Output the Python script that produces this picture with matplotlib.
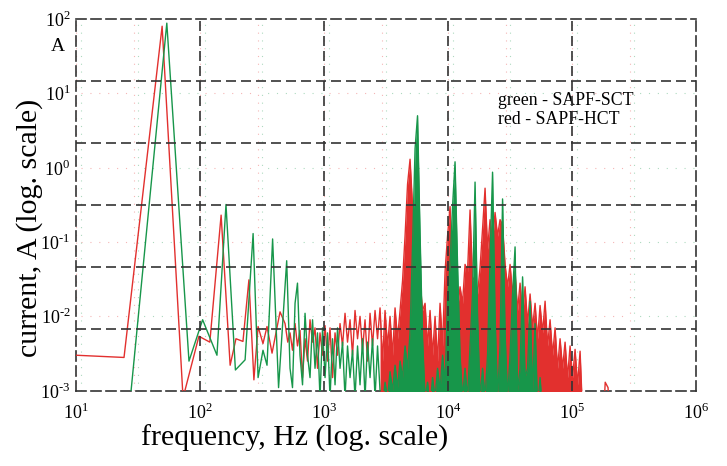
import numpy as np
import matplotlib.pyplot as plt

# ---- data (Hz, A) ----
red_low_f = [10, 24.4, 49.5, 73, 98, 120, 148, 175, 195, 222, 248, 272, 294, 322, 347, 381, 442, 485, 510]
red_low_a = [3.0e-3, 2.8e-3, 80, 8e-4, 5.4e-3, 4.5e-3, 0.23, 2.2e-3, 5.0e-3, 4.6e-3, 0.031, 1.4e-3,
             7.3e-3, 4.3e-3, 7.3e-3, 3.2e-3, 0.0115, 8e-3, 4.5e-3]

green_low_f = [27, 54, 81.5, 105, 137, 162, 193, 231, 268, 294, 322, 347, 385, 430, 500]
green_low_a = [6e-4, 88, 2.5e-3, 9e-3, 3e-3, 0.32, 1.9e-3, 2.6e-3, 0.13, 1.5e-3, 3.5e-3, 2.2e-3,
               0.11, 1.1e-3, 0.056]

# frequencies of the dense part of the spectrum
dense_f = [532, 557, 584, 611, 640, 671, 703, 736, 771, 808,
           846, 886, 928, 973, 1019, 1067, 1118, 1171, 1227, 1285,
           1346, 1410, 1477, 1547, 1621, 1698, 1778, 1863, 1951, 2044,
           2141, 2243, 2350, 2461, 2578, 2701, 2829, 2964, 3104, 3252,
           3406, 3568, 3738, 3915, 4102, 4296, 4501, 4715, 4939, 5173,
           5420, 5675, 5946, 6228, 6524, 6835, 7159, 7499, 7856, 8229,
           8620, 9030, 9458, 9906, 10378, 10872, 11386, 11927, 12495, 13089,
           13711, 14361, 15044, 15760, 16508, 17294, 18113, 18975, 19878, 20820,
           21811, 22845, 23933, 25071, 26261, 27510, 28820, 30186, 31623, 33121,
           34698, 36350, 38075, 39886, 41778, 43768, 45852, 48028, 50314, 52699,
           55208, 57836, 60579, 63462, 66468, 69632, 72947, 76384, 80020, 83814,
           87803, 91983, 96341, 100925, 105709, 110740, 116010, 121501]

red_dense_a = [6e-3, 3.5e-3, 8e-3, 4e-3, 6.5e-3, 1.5e-3, 5e-3, 2.5e-3, 9e-3, 4.5e-3,
               7e-3, 2e-3, 6e-3, 3e-3, 7.5e-3, 2.5e-3, 7e-3, 1.5e-3, 6e-3, 3e-3,
               8e-3, 4e-3, 1.1e-2, 4.5e-3, 9e-3, 3e-3, 1.2e-2, 5e-3, 1.0e-2, 3.5e-3,
               9e-3, 2.5e-3, 1.1e-2, 4e-3, 1.2e-2, 5e-3, 1.3e-2, 2.5e-3, 1.2e-2, 4e-3,
               1.0e-2, 3e-3, 1.3e-2, 5e-3, 0.012, 0.03, 0.12, 0.6, 1.3, 0.3,
               0.1, 0.05, 0.03, 0.012, 0.015, 4e-3, 0.012, 3e-3, 0.01, 2.5e-3,
               0.015, 4e-3, 0.04, 0.12, 0.3, 0.04, 0.02, 0.012, 0.025, 0.015,
               0.05, 0.04, 0.27, 0.03, 0.035, 0.02, 0.045, 0.15, 0.53, 0.08,
               0.2, 0.1, 0.25, 0.12, 0.2, 0.17, 0.05, 0.025, 0.05, 0.02,
               0.04, 0.012, 0.028, 0.01, 0.025, 8e-3, 0.02, 7e-3, 0.015, 5e-3,
               0.014, 6e-3, 0.016, 4e-3, 9e-3, 3e-3, 7e-3, 2e-3, 5e-3, 2e-3,
               4.5e-3, 1.5e-3, 4e-3, 1.5e-3, 3.6e-3, 1.2e-3, 3.4e-3, 5e-4]

green_dense_a = [2e-3, 1.1e-3, 0.015, 0.028, 3e-3, 1.2e-3, 0.011, 3e-3, 1.5e-3, 9e-3,
                 2e-3, 6e-3, 8e-4, 7e-3, 1.5e-3, 6e-3, 8e-4, 5e-3, 1.2e-3, 7e-3,
                 2e-3, 4.5e-3, 8e-4, 4e-3, 1.5e-3, 3.5e-3, 8e-4, 4e-3, 1.2e-3, 5e-3,
                 8e-4, 4.5e-3, 1.5e-3, 5e-3, 8e-4, 4e-3, 1e-3, 6e-4, 1.3e-3, 8e-4,
                 1.8e-3, 1e-3, 2.2e-3, 1.1e-3, 2.5e-3, 1.5e-3, 4e-3, 2e-3, 6e-3, 0.09,
                 1.8, 5.0, 0.13, 5e-3, 8e-4, 1.3e-3, 6e-4, 1.5e-3, 8e-4, 2e-3,
                 1e-3, 3e-3, 1.2e-3, 0.017, 0.05, 0.3, 1.2, 0.05, 3e-3, 8e-4,
                 2e-3, 8e-4, 4e-3, 0.02, 0.64, 0.01, 8e-4, 2e-3, 8e-4, 3e-3,
                 0.06, 0.87, 0.01, 8e-4, 4e-3, 0.38, 6e-3, 8e-4, 3e-3, 0.02,
                 0.086, 1e-3, 2e-3, 0.034, 1.5e-3, 2e-3, 0.016, 1e-3, 8e-3, 6e-4,
                 1.5e-3, 5e-4]

red_tail_f = [140000, 180000, 185000, 195000, 200000]
red_tail_a = [5e-4, 5e-4, 1.3e-3, 1.1e-3, 5e-4]

red_f = red_low_f + dense_f + red_tail_f
red_a = red_low_a + red_dense_a + red_tail_a
green_f = green_low_f + dense_f[:len(green_dense_a)]
green_a = green_low_a + green_dense_a

plt.rcParams['font.family'] = ['Liberation Serif', 'DejaVu Serif']
plt.rcParams['mathtext.fontset'] = 'custom'
plt.rcParams['mathtext.rm'] = 'Liberation Serif'

fig = plt.figure(figsize=(7.27, 4.66), dpi=100)
ax = fig.add_axes([0.1045, 0.1616, 0.853, 0.7976])
ax.set_xscale('log')
ax.set_yscale('log')
ax.set_xlim(10, 1e6)
ax.set_ylim(1e-3, 1e2)

red_c = '#e2302e'
green_c = '#17964a'

# faint dotted ghost lines (left over in the original export)
for n in range(1, 6):
    for xr, xg in [(10 ** (n + 0.5) * 0.93, 10 ** (n + 0.5)), (10 ** n, 10 ** n * 1.1)]:
        ax.axvline(xr, color=red_c, lw=0.8, ls=(0, (1, 6)), alpha=0.35, zorder=1)
        ax.axvline(xg, color=green_c, lw=0.8, ls=(0, (1, 6)), alpha=0.35, zorder=1)
    for d in [1e1, 1e0, 1e-1, 1e-2]:
        ax.plot([10 ** n * 1.1, 10 ** (n + 0.5) * 0.93], [d, d], color=red_c, lw=0.8,
                ls=(0, (1, 7)), alpha=0.35, zorder=1)
        ax.plot([10 ** (n + 0.5), 10 ** (n + 1)], [d, d], color=green_c, lw=0.8,
                ls=(3, (1, 7)), alpha=0.35, zorder=1)

# spectra; the dense high-frequency part is filled down to the floor
k0 = 36
ax.plot(red_f, red_a, color=red_c, lw=1.0, zorder=3)
ax.fill_between(dense_f[k0:], 1e-4, red_dense_a[k0:], color=red_c, lw=0, zorder=3)
ax.plot(green_f, green_a, color=green_c, lw=1.0, zorder=4)
ax.fill_between(dense_f[k0:len(green_dense_a)], 1e-4, green_dense_a[k0:], color=green_c, lw=0, zorder=4)

# dashed grid: vertical at decades, horizontal at sixths of the range
for xv in [1e2, 1e3, 1e4, 1e5]:
    ax.axvline(xv, color='#333333', lw=1.2, dashes=(6, 3), zorder=5)
for k in range(1, 6):
    ax.axhline(10 ** (2 - k * 5 / 6), color='#333333', lw=1.2, dashes=(6, 3), zorder=5)
for s in ax.spines.values():
    s.set_linestyle((0, (6, 3)))
    s.set_linewidth(1.2)
    s.set_edgecolor('#333333')

ax.set_xticks([1e1, 1e2, 1e3, 1e4, 1e5, 1e6])
ax.set_xticklabels(['10$^{1}$', '10$^{2}$', '10$^{3}$', '10$^{4}$', '10$^{5}$', '10$^{6}$'])
ax.set_yticks([1e-3, 1e-2, 1e-1, 1e0, 1e1, 1e2])
ax.set_yticklabels(['10$^{\\text{-}3}$', '10$^{\\text{-}2}$', '10$^{\\text{-}1}$',
                    '10$^{0}$', '10$^{1}$', '10$^{2}$'])
ax.minorticks_off()
ax.tick_params(length=0, labelsize=13, pad=4)
ax.tick_params(axis='x', pad=9)

fig.text(0.079, 0.90, 'A', fontsize=14, ha='center', va='center')
fig.text(0.041, 0.511, 'current, A (log. scale)', fontsize=21.5, rotation=90, ha='center', va='center')
fig.text(0.405, 0.06, 'frequency, Hz (log. scale)', fontsize=21.5, ha='center', va='center')
ax.text(0.68, 0.78, 'green - SAPF-SCT', transform=ax.transAxes, fontsize=12.8, va='center')
ax.text(0.68, 0.729, 'red - SAPF-HCT', transform=ax.transAxes, fontsize=12.8, va='center')

fig.savefig('out.png', dpi=100)
